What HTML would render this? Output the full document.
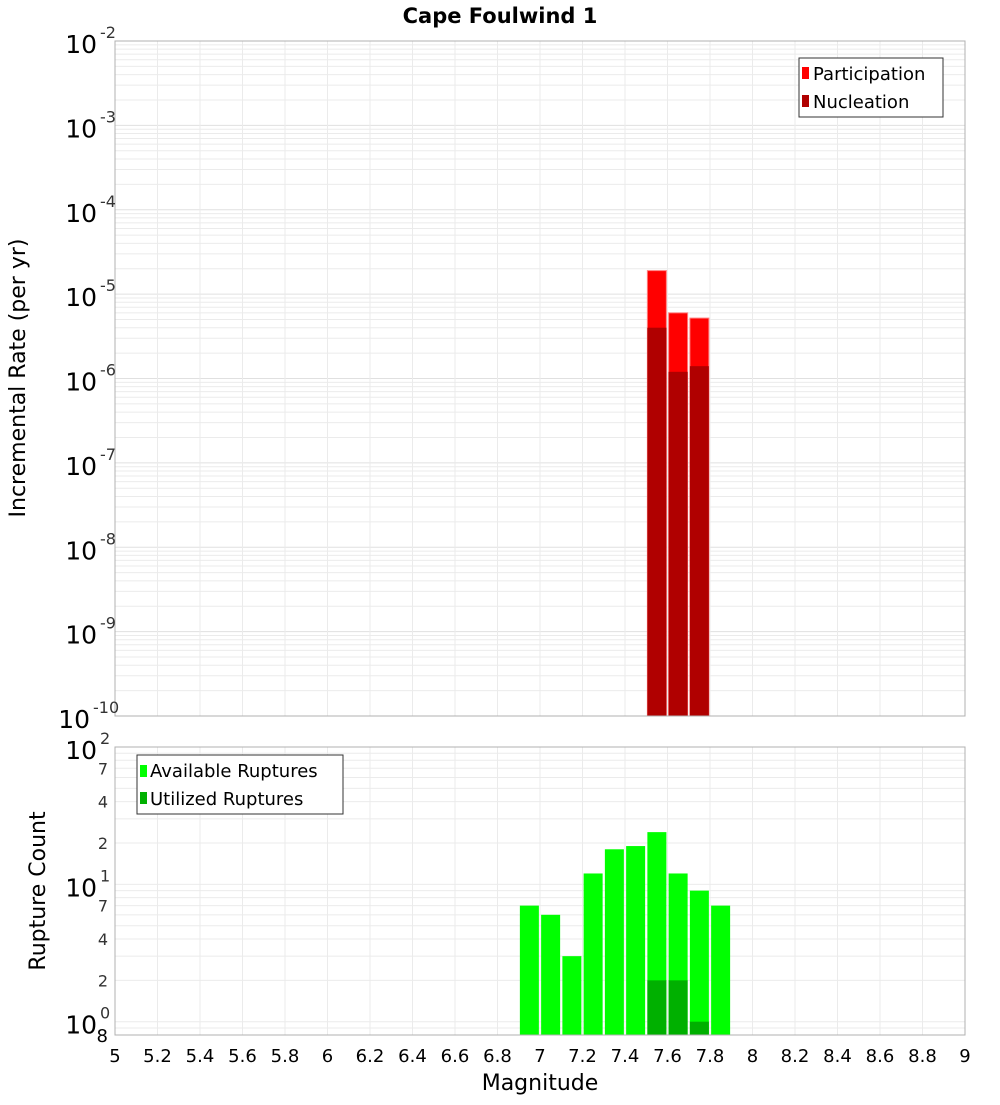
<!DOCTYPE html>
<html><head><meta charset="utf-8"><style>
body{margin:0;background:#fff;font-family:"Liberation Sans","DejaVu Sans",sans-serif}
svg text{font-family:"DejaVu Sans","Liberation Sans",sans-serif}
</style></head><body>
<svg id="c" width="1000" height="1100" xmlns="http://www.w3.org/2000/svg"></svg>
<script>
const mags = [6.95,7.05,7.15,7.25,7.35,7.45,7.55,7.65,7.75,7.85];
const partMags = [7.55,7.65,7.75];
const participation = [1.9e-5,6e-6,5.2e-6];
const nucleation = [4.0e-6,1.2e-6,1.4e-6];
const available = [7,6,3,12,18,19,24,12,9,7];
const utilizedMags = [7.55,7.65,7.75];
const utilized = [2,2,1];
const xTicks = [5,5.2,5.4,5.6,5.8,6,6.2,6.4,6.6,6.8,7,7.2,7.4,7.6,7.8,8,8.2,8.4,8.6,8.8,9];
const topExp = [-2,-3,-4,-5,-6,-7,-8,-9,-10];

const svg=document.getElementById('c');const NS='http://www.w3.org/2000/svg';
function el(t,a,txt,p){const e=document.createElementNS(NS,t);for(const k in a)e.setAttribute(k,a[k]);if(txt!=null)e.textContent=txt;(p||svg).appendChild(e);return e;}
const L=115,R=965;
const X=m=>L+(m-5)/4*(R-L);
const T0=41,T1=716; const YT=v=>T0+(-2-Math.log10(v))/8*(T1-T0);
const B0=747,B1=1035; const lb=Math.log10(0.8); const YB=v=>B0+(2-Math.log10(v))/(2-lb)*(B1-B0);
const grid='#ebebeb';
// title
let t=el('text',{x:500,y:23,'text-anchor':'middle','font-size':21,'font-weight':'bold'},'Cape Foulwind 1');
// top panel
el('rect',{x:L,y:T0,width:R-L,height:T1-T0,fill:'#fff'});
for(let e=-10;e<-2;e++)for(let k=2;k<10;k++){const y=YT(k*Math.pow(10,e));el('line',{x1:L,x2:R,y1:y,y2:y,stroke:grid});}
topExp.forEach(e=>{const y=YT(Math.pow(10,e));el('line',{x1:L,x2:R,y1:y,y2:y,stroke:'#e0e0e0'});});
xTicks.forEach(m=>{el('line',{x1:X(m),x2:X(m),y1:T0,y2:T1,stroke:grid});el('line',{x1:X(m),x2:X(m),y1:B0,y2:B1,stroke:grid});});
const bw=19;
partMags.forEach((m,i)=>{const x=X(m)-bw/2;
 let r=el('rect',{x:x,y:YT(participation[i]),width:bw,height:T1-YT(participation[i]),fill:'#ff0000',stroke:'#ff8080','stroke-width':1});
 r=el('rect',{x:x,y:YT(nucleation[i]),width:bw,height:T1-YT(nucleation[i]),fill:'#b00000'});});
el('rect',{x:L,y:T0,width:R-L,height:T1-T0,fill:'none',stroke:'#b0b0b0'});
topExp.forEach(e=>{const y=YT(Math.pow(10,e));const g=el('text',{x:e==-10?90:97,y:y+12,'text-anchor':'end','font-size':25},'10');
 t=el('text',{x:e==-10?93:100,y:y-3,'font-size':16,fill:'#333'},String(e));});
let yl=el('text',{x:25,y:378,'text-anchor':'middle','font-size':22,transform:'rotate(-90 25 378)'},'Incremental Rate (per yr)');
// top legend
let lg=el('g',{});
el('rect',{x:799,y:58,width:144,height:59,fill:'#fff',stroke:'#333'},null,lg);
el('rect',{x:802,y:67,width:7,height:12,fill:'#ff0000'},null,lg);el('text',{x:813,y:80,'font-size':18},'Participation',lg);
el('rect',{x:802,y:95,width:7,height:12,fill:'#b00000'},null,lg);el('text',{x:813,y:108,'font-size':18},'Nucleation',lg);
// bottom panel
for(let e=-1;e<2;e++)for(let k=1;k<10;k++){const v=k*Math.pow(10,e);if(v<0.8)continue;const y=YB(v);el('line',{x1:L,x2:R,y1:y,y2:y,stroke:grid});}
mags.forEach((m,i)=>{let r=el('rect',{x:X(m)-bw/2,y:YB(available[i]),width:bw,height:B1-YB(available[i]),fill:'#00ff00'});});
utilizedMags.forEach((m,i)=>{let r=el('rect',{x:X(m)-bw/2,y:YB(utilized[i]),width:bw,height:B1-YB(utilized[i]),fill:'#00b000'});});
el('rect',{x:L,y:B0,width:R-L,height:B1-B0,fill:'none',stroke:'#b0b0b0'});
[[100,'2'],[10,'1'],[1,'0']].forEach(([v,e])=>{const y=YB(v);el('text',{x:97,y:y+12,'text-anchor':'end','font-size':25},'10');el('text',{x:100,y:y-3,'font-size':16,fill:'#333'},e);});
[70,40,20,7,4,2].forEach(v=>{el('text',{x:108,y:YB(v)+6,'text-anchor':'end','font-size':16,fill:'#333'},String(v).charAt(0));});
el('text',{x:108,y:1042,'text-anchor':'end','font-size':18},'8');
yl=el('text',{x:45,y:891,'text-anchor':'middle','font-size':22,transform:'rotate(-90 45 891)'},'Rupture Count');
lg=el('g',{});
el('rect',{x:137,y:755,width:206,height:59,fill:'#fff',stroke:'#333'},null,lg);
el('rect',{x:140,y:765,width:7,height:12,fill:'#00ff00'},null,lg);el('text',{x:150,y:777,'font-size':18},'Available Ruptures',lg);
el('rect',{x:140,y:792,width:7,height:12,fill:'#00b000'},null,lg);el('text',{x:150,y:805,'font-size':18},'Utilized Ruptures',lg);
xTicks.forEach(m=>{el('text',{x:X(m),y:1062,'text-anchor':'middle','font-size':18},String(m));});
let xl=el('text',{x:540,y:1090,'text-anchor':'middle','font-size':22},'Magnitude');
</script>
</body></html>
